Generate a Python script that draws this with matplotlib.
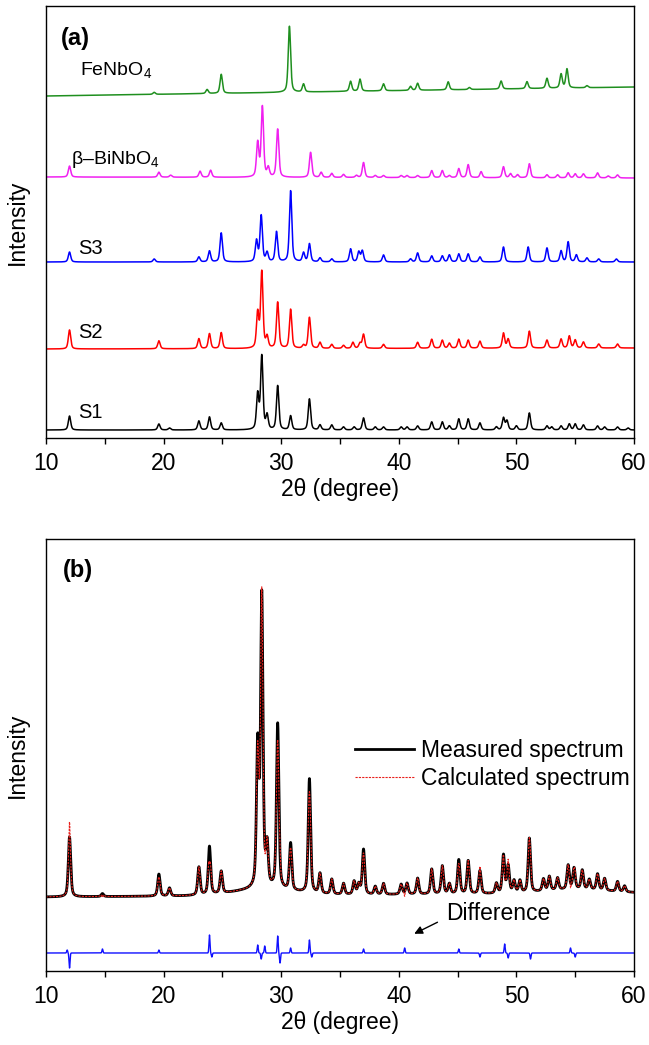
import numpy as np
import matplotlib.pyplot as plt

plt.rcParams['font.family'] = ['Liberation Sans', 'DejaVu Sans']
plt.rcParams['mathtext.fontset'] = 'custom'
plt.rcParams['mathtext.rm'] = 'Liberation Sans'
plt.rcParams['mathtext.it'] = 'Liberation Sans:italic'
plt.rcParams['mathtext.bf'] = 'Liberation Sans:bold'

# ---------------- (a) peak lists (2theta, height) ----------------
fe_pos = [19.2, 23.7, 24.9, 30.7, 31.9, 35.9, 36.7, 38.7, 41.0, 41.6, 44.2, 46.0,
          48.7, 50.9, 52.6, 53.8, 54.3, 56.0]
fe_h = [2, 4, 19, 66, 8, 10, 12, 7, 4, 7, 8, 2, 8, 7, 10, 14, 19, 2]

bi_pos = [12.0, 19.6, 20.6, 23.1, 24.0, 28.0, 28.4, 28.9, 29.7, 32.5, 33.4, 34.3,
          35.3, 36.4, 37.0, 38.0, 38.7, 40.2, 40.7, 41.6, 42.8, 43.7, 44.3, 45.1,
          45.9, 47.0, 48.9, 49.5, 50.1, 51.1, 52.6, 53.5, 54.4, 55.0, 55.7, 56.9,
          57.8, 58.6]
bi_h = [11, 5, 2, 6, 7, 34, 70, 9, 48, 25, 5, 4, 3, 2, 15, 2, 2, 2, 2, 2, 7, 7,
        2, 9, 13, 6, 11, 4, 3, 14, 3, 3, 5, 4, 4, 5, 2, 3]

s3_pos = [12.0, 19.2, 23.0, 23.9, 24.9, 27.9, 28.3, 28.8, 29.6, 30.8, 31.9, 32.4,
          33.3, 34.3, 35.9, 36.6, 36.9, 38.7, 41.0, 41.6, 42.8, 43.7, 44.3, 45.1,
          45.9, 46.9, 48.9, 51.0, 52.6, 53.8, 54.4, 55.1, 56.0, 57.0, 58.5]
s3_h = [10, 3, 5, 11, 29, 21, 46, 9, 30, 71, 9, 18, 4, 3, 13, 10, 11, 7, 3, 9, 6,
        6, 7, 8, 8, 5, 15, 15, 14, 11, 20, 7, 4, 3, 3]

s2_pos = [12.0, 19.6, 23.0, 23.9, 24.9, 28.0, 28.35, 28.8, 29.7, 30.8, 31.9, 32.4,
          33.3, 34.3, 35.3, 36.1, 36.7, 37.0, 38.7, 41.6, 42.8, 43.7, 44.3, 45.1,
          45.9, 46.9, 48.9, 49.3, 51.1, 52.6, 53.8, 54.5, 55.0, 55.7, 57.0, 58.6]
s2_h = [19, 8, 10, 15, 16, 35, 76, 11, 46, 39, 3, 31, 6, 4, 3, 6, 5, 14, 4, 6, 9,
        8, 5, 9, 8, 7, 15, 9, 17, 8, 9, 12, 8, 6, 4, 4]

s1_pos = [12.0, 19.6, 20.5, 23.0, 23.9, 24.9, 28.0, 28.35, 28.8, 29.7, 30.8, 32.4,
          33.3, 34.3, 35.3, 36.2, 37.0, 38.0, 38.7, 40.2, 40.7, 41.6, 42.8, 43.7,
          44.3, 45.1, 45.9, 46.9, 48.3, 48.9, 49.2, 50.0, 51.1, 52.6, 53.0, 53.8,
          54.5, 55.0, 55.7, 56.9, 57.5, 58.6, 59.5]
s1_h = [14, 6, 2, 9, 13, 7, 35, 73, 14, 44, 14, 31, 5, 5, 3, 3, 12, 3, 3, 3, 3, 4,
        8, 8, 4, 11, 11, 7, 3, 12, 9, 4, 17, 4, 3, 4, 6, 6, 5, 4, 3, 3, 2]

a_names = ['FeNbO$_4$', '\u03b2\u2013BiNbO$_4$', 'S3', 'S2', 'S1']
a_colors = ['#1f8f1f', '#f020f0', '#0000ff', '#ff0000', '#000000']
a_pos = [fe_pos, bi_pos, s3_pos, s2_pos, s1_pos]
a_h = [fe_h, bi_h, s3_h, s2_h, s1_h]
# stack offsets (left end, right end)
a_base_left = [342, 261, 176, 89, 8]
a_base_right = [351, 260, 176, 90, 8]

# ---------------- (b) refinement ----------------
meas_pos = [12.0, 14.8, 19.6, 20.5, 23.0, 23.9, 24.9, 28.0, 28.35, 28.8, 29.7,
            30.8, 32.4, 33.3, 34.3, 35.3, 36.2, 36.6, 37.0, 38.0, 38.7, 40.2,
            40.7, 41.6, 42.8, 43.7, 44.3, 45.1, 45.9, 46.9, 48.3, 48.9, 49.3,
            49.8, 50.3, 51.1, 52.3, 52.8, 53.5, 54.4, 54.9, 55.6, 56.2, 56.9,
            57.5, 58.6, 59.2]
meas_h = [60, 3, 22, 8, 28, 48, 22, 140, 290, 40, 165, 47, 114, 20, 15, 11, 13,
          10, 45, 8, 11, 10, 11, 16, 25, 28, 10, 34, 33, 23, 10, 38, 27, 12, 12,
          54, 12, 14, 12, 24, 21, 19, 10, 16, 12, 10, 6]
meas_bg_left = 74
meas_bg_right = 78
bump_pos = [28.5, 55.0]
bump_h = [6, 4]

diff_pos = [11.8, 12.0, 14.8, 19.6, 23.9, 24.1, 28.0, 28.3, 28.6, 29.7, 29.9,
            30.8, 32.4, 32.6, 37.0, 40.5, 45.1, 46.9, 49.0, 49.3, 51.2, 54.6, 55.0]
diff_h = [3, -15, 4, 3, 18, -4, 8, -6, 7, 17, -10, 5, 13, -4, 4, 5, 4, -4, 9, -5,
          -6, 5, -4]
diff_base = 18

x = np.linspace(10, 60, 6001)


def pattern(pos, h, fwhm=0.24, eta=0.5):
    y = np.zeros_like(x)
    for p, a in zip(pos, h):
        d = (x - p) / fwhm
        y += a * (eta / (1 + 4 * d ** 2) + (1 - eta) * np.exp(-4 * np.log(2) * d ** 2))
    return y


fig = plt.figure(figsize=(6.49, 10.45), dpi=100)
ax_a = fig.add_axes([46 / 649, 1 - 438 / 1045, 588 / 649, 432 / 1045])
ax_b = fig.add_axes([46 / 649, 1 - 971 / 1045, 588 / 649, 432 / 1045])

# ----- panel (a)
for name, c, pos, h, b0, b1 in zip(a_names, a_colors, a_pos, a_h, a_base_left, a_base_right):
    base = b0 + (b1 - b0) * (x - 10) / 50
    ax_a.plot(x, base + pattern(pos, h), color=c, lw=1.1)

ax_a.text(12.9, 368, a_names[0], fontsize=14, va='center')
ax_a.text(12.1, 278, a_names[1], fontsize=14, va='center')
ax_a.text(12.7, 190, 'S3', fontsize=14.5, va='center')
ax_a.text(12.7, 106, 'S2', fontsize=14.5, va='center')
ax_a.text(12.7, 25, 'S1', fontsize=14.5, va='center')
ax_a.text(11.3, 399, '(a)', fontsize=17, fontweight='bold', va='center')

# ----- panel (b)
bg = meas_bg_left + (meas_bg_right - meas_bg_left) * (x - 10) / 50 + pattern(bump_pos, bump_h, fwhm=6.0, eta=0.0)
measured = bg + pattern(meas_pos, meas_h)
diff_spk = pattern(diff_pos, diff_h, fwhm=0.1, eta=0.0)
calculated = measured - diff_spk

ax_b.plot(x, measured, color='black', lw=2.0, label='Measured spectrum')
ax_b.plot(x, calculated, color='#e8201c', lw=0.8, ls=(0, (2, 1)), label='Calculated spectrum')
ax_b.plot(x, diff_base + diff_spk, color='#1010ff', lw=1.0)

ax_b.legend(loc='upper left', bbox_to_anchor=(0.525, 0.537), frameon=False, fontsize=16.5,
            handlelength=2.6, handletextpad=0.3, labelspacing=0.2, borderpad=0, borderaxespad=0)
ax_b.annotate('', xy=(41.1, 36), xytext=(43.5, 50),
              arrowprops=dict(arrowstyle='-|>', color='black', lw=1, mutation_scale=12))
ax_b.text(44.0, 57, 'Difference', fontsize=16.5, va='center')
ax_b.text(11.4, 400, '(b)', fontsize=17, fontweight='bold', va='center')

for ax in (ax_a, ax_b):
    ax.set_xlim(10, 60)
    ax.set_ylim(0, 432)
    ax.set_xticks([10, 20, 30, 40, 50, 60])
    ax.set_xticks([15, 25, 35, 45, 55], minor=True)
    ax.set_yticks([])
    ax.tick_params(axis='x', which='major', direction='out', length=4, width=1, labelsize=16.5, pad=6)
    ax.tick_params(axis='x', which='minor', direction='out', length=4, width=1)
    ax.set_xlabel('2\u03b8 (degree)', fontsize=16.5, labelpad=2)
    ax.set_ylabel('Intensity', fontsize=16.5, labelpad=12)
    for s in ax.spines.values():
        s.set_linewidth(1.0)

fig.savefig('out.png', dpi=100)
